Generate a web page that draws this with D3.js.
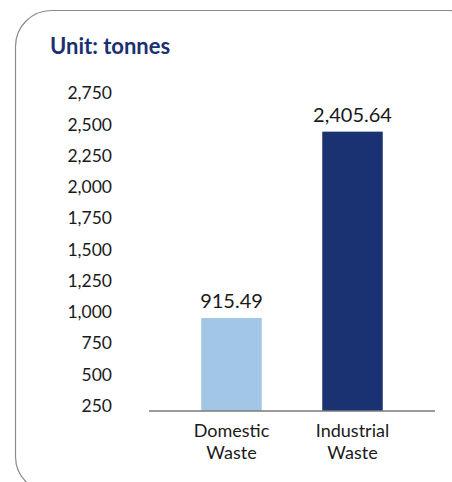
<!DOCTYPE html>
<html>
<head>
<meta charset="utf-8">
<script src="https://cdn.jsdelivr.net/npm/d3@7"></script>
<style>
  body { margin: 0; background: #fff; }
  svg { display: block; font-family: Lato, "Open Sans", sans-serif; }
</style>
</head>
<body>
<div id="chart"></div>
<script>
// data
var categories = ["Domestic Waste", "Industrial Waste"];
var values = [915.49, 2405.64];
var valueLabels = ["915.49", "2,405.64"];
var tickValues = [250, 500, 750, 1000, 1250, 1500, 1750, 2000, 2250, 2500, 2750];
var barColors = ["#a2c6e6", "#1a3172"];
var axisFloor = 171; // the visible baseline sits a bit above zero

var width = 452, height = 482;

var svg = d3.select("#chart").append("svg")
    .attr("width", width)
    .attr("height", height);

// rounded frame, runs off the right and bottom of the window
svg.append("rect")
    .attr("x", 15.5)
    .attr("y", 10.5)
    .attr("width", 470)
    .attr("height", 482)
    .attr("rx", 36)
    .attr("ry", 36)
    .attr("fill", "none")
    .attr("stroke", "#8a8a8a")
    .attr("stroke-width", 1.2);

svg.append("text")
    .attr("x", 50)
    .attr("y", 54)
    .attr("fill", "#1b3070")
    .style("font-size", "22px")
    .style("font-weight", "bold")
    .text("Unit: tonnes");

var yScale = d3.scaleLinear().domain([0, 2750]).range([432.4, 88.6]);
var xScale = d3.scaleBand().domain(categories).range([171, 413]).paddingInner(0.5).paddingOuter(0.25);

// y axis labels only, no line
var yAxis = svg.append("g")
    .attr("transform", "translate(112,0)")
    .call(d3.axisLeft(yScale).tickValues(tickValues).tickSize(0).tickPadding(0).tickFormat(d3.format(",")));
yAxis.select(".domain").remove();
yAxis.selectAll("text")
    .attr("dy", "0.58em")
    .attr("fill", "#1a1a1a")
    .style("font-family", "Lato, sans-serif")
    .style("font-size", "17.5px");

var baseY = yScale(axisFloor);

svg.selectAll("rect.bar")
    .data(values)
    .enter()
    .append("rect")
    .attr("class", "bar")
    .attr("x", (d, i) => xScale(categories[i]))
    .attr("width", xScale.bandwidth())
    .attr("y", d => yScale(d))
    .attr("height", d => baseY - yScale(d))
    .attr("fill", (d, i) => barColors[i]);

svg.selectAll("text.value")
    .data(values)
    .enter()
    .append("text")
    .attr("class", "value")
    .attr("x", (d, i) => xScale(categories[i]) + xScale.bandwidth() / 2)
    .attr("y", d => yScale(d) - 10)
    .attr("text-anchor", "middle")
    .attr("fill", "#1a1a1a")
    .style("font-size", "20px")
    .text((d, i) => valueLabels[i]);

// baseline
svg.append("line")
    .attr("x1", 149)
    .attr("x2", 435)
    .attr("y1", baseY)
    .attr("y2", baseY)
    .attr("stroke", "#7a7a7a")
    .attr("stroke-width", 1.3);

// two-line category labels
var catLabels = svg.selectAll("text.cat")
    .data(categories)
    .enter()
    .append("text")
    .attr("class", "cat")
    .attr("text-anchor", "middle")
    .attr("fill", "#1a1a1a")
    .style("font-size", "18px");
catLabels.selectAll("tspan")
    .data(d => d.split(" ").map(w => ({ w: w, c: d })))
    .enter()
    .append("tspan")
    .attr("x", d => xScale(d.c) + xScale.bandwidth() / 2)
    .attr("y", (d, i) => baseY + 26 + i * 22)
    .text(d => d.w);
</script>
</body>
</html>
